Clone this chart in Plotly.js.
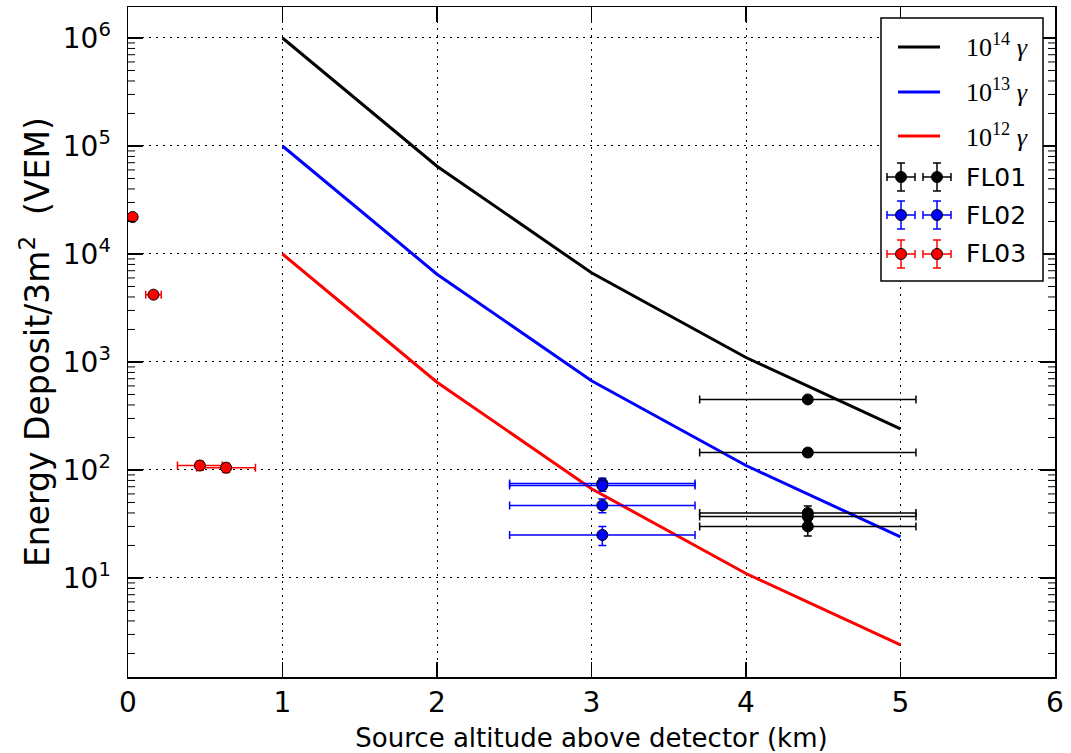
<!DOCTYPE html>
<html>
<head>
<meta charset="utf-8">
<script src="https://cdn.plot.ly/plotly-3.0.1.min.js"></script>
<style>html,body{margin:0;padding:0;background:#fff;}#chart{width:1071px;height:753px;}</style>
</head>
<body>
<div id="chart"></div>
<script>
// Model curves
const altitude = [1, 2, 3, 4, 5];
const model14 = [1.0e6, 6.5e4, 6.7e3, 1.1e3, 240];
const model13 = [1.0e5, 6.5e3, 670, 110, 24];
const model12 = [1.0e4, 650, 67, 11, 2.4];

// FL01 (black)
const fl01_x = [4.4, 4.4, 4.4, 4.4, 4.4];
const fl01_xerr = [0.7, 0.7, 0.7, 0.7, 0.7];
const fl01_y = [450, 145, 40, 37, 30];
const fl01_yerr = [21, 12, 6.3, 6.1, 5.5];

// FL02 (blue)
const fl02_x = [3.07, 3.07, 3.07, 3.07];
const fl02_xerr = [0.6, 0.6, 0.6, 0.6];
const fl02_y = [75, 72, 47, 25];
const fl02_yerr = [8.7, 8.5, 6.9, 5];

// FL03 (red)
const fl03_x = [0.03, 0.165, 0.465, 0.635];
const fl03_xerr = [0.0, 0.05, 0.145, 0.19];
const fl03_y = [22000, 4200, 110, 105];
const fl03_yerr = [148, 65, 10.5, 10.2];

const xTickVals = [0, 1, 2, 3, 4, 5, 6];
const yTickVals = [10, 100, 1000, 10000, 100000, 1000000];
const yTickText = ["10<sup>1</sup>", "10<sup>2</sup>", "10<sup>3</sup>", "10<sup>4</sup>", "10<sup>5</sup>", "10<sup>6</sup>"];
const legendLines = [
  {label: '10<sup>14</sup>', color: 'black'},
  {label: '10<sup>13</sup>', color: 'blue'},
  {label: '10<sup>12</sup>', color: 'red'}
];
const legendData = [
  {label: 'FL01', color: 'black'},
  {label: 'FL02', color: 'blue'},
  {label: 'FL03', color: 'red'}
];

const W = 1071, H = 753;
const M = {l: 128, r: 16, t: 7, b: 76};
const PW = W - M.l - M.r, PH = H - M.t - M.b;
const px = X => (X - M.l) / PW;
const py = Y => 1 - (Y - M.t) / PH;
const Y_RANGE = [0.083, 6.287];
// position of a y value on the log axis, as a fraction of the plot height
const yFrac = v => (Math.log10(v) - Y_RANGE[0]) / (Y_RANGE[1] - Y_RANGE[0]);

// minor tick positions of the log axis (2..9 x 10^k) inside the range
const yMinorVals = [];
for (let k = 0; k <= 6; k++) for (let m = 2; m <= 9; m++) {
  const v = m * Math.pow(10, k);
  if (Math.log10(v) > Y_RANGE[0] && Math.log10(v) < Y_RANGE[1]) yMinorVals.push(v);
}

function modelTrace(y, color) {
  return {x: altitude, y: y, mode: 'lines', type: 'scatter', line: {color: color, width: 3}};
}
function dataTrace(x, xe, y, ye, color) {
  return {x: x, y: y, mode: 'markers', type: 'scatter',
          marker: {color: color, size: 11, line: {color: 'black', width: 1}},
          error_x: {type: 'data', array: xe, visible: true, color: color, thickness: 1.5, width: 4},
          error_y: {type: 'data', array: ye, visible: true, color: color, thickness: 1.5, width: 4}};
}
const traces = [
  modelTrace(model14, 'black'),
  modelTrace(model13, 'blue'),
  modelTrace(model12, 'red'),
  dataTrace(fl01_x, fl01_xerr, fl01_y, fl01_yerr, 'black'),
  dataTrace(fl02_x, fl02_xerr, fl02_y, fl02_yerr, 'blue'),
  dataTrace(fl03_x, fl03_xerr, fl03_y, fl03_yerr, 'red')
];

const shapes = [];
const annotations = [];
// minor ticks (left and right sides) of the log y axis
yMinorVals.forEach(v => {
  const f = yFrac(v);
  shapes.push({type: 'line', xref: 'paper', yref: 'paper', xsizemode: 'pixel', xanchor: 0, x0: 0, x1: 7,
               y0: f, y1: f, line: {color: 'black', width: 1}, layer: 'above'});
  shapes.push({type: 'line', xref: 'paper', yref: 'paper', xsizemode: 'pixel', xanchor: 1, x0: -7, x1: 0,
               y0: f, y1: f, line: {color: 'black', width: 1}, layer: 'above'});
});

// Custom legend (matplotlib style, with two markers per data row)
const P = (o) => Object.assign({xref: 'paper', yref: 'paper'}, o);
shapes.push(P({type: 'rect', x0: px(881), x1: px(1043), y0: py(18), y1: py(281),
               line: {color: 'black', width: 1.5}, fillcolor: 'white', layer: 'above'}));
const lineRowsY = [47, 92, 136];
legendLines.forEach((it, i) => {
  const Y = lineRowsY[i];
  shapes.push(P({type: 'line', x0: px(898), x1: px(940), y0: py(Y), y1: py(Y),
                 line: {color: it.color, width: 3}, layer: 'above'}));
  annotations.push(P({x: px(964), y: py(Y - 1), xanchor: 'left', yanchor: 'middle', showarrow: false,
    text: '<span style="font-family:Liberation Serif">' + it.label + '</span> <span style="font-family:Liberation Serif;font-style:italic">&#947;</span>',
    font: {size: 26, color: 'black', family: 'Liberation Serif, serif'}}));
});
const dataRowsY = [177, 215, 254];
legendData.forEach((it, i) => {
  const Y = dataRowsY[i];
  [901, 937].forEach(X => {
    const L = (x0, y0, x1, y1) => shapes.push(P({type: 'line', x0: px(x0), x1: px(x1), y0: py(y0), y1: py(y1),
                                            line: {color: it.color, width: 1.5}, layer: 'above'}));
    L(X - 14, Y, X + 14, Y);
    L(X - 14, Y - 4, X - 14, Y + 4);
    L(X + 14, Y - 4, X + 14, Y + 4);
    L(X, Y - 14, X, Y + 14);
    L(X - 4, Y - 14, X + 4, Y - 14);
    L(X - 4, Y + 14, X + 4, Y + 14);
    shapes.push(P({type: 'circle', x0: px(X - 5.5), x1: px(X + 5.5), y0: py(Y - 5.5), y1: py(Y + 5.5),
                   fillcolor: it.color, line: {color: 'black', width: 1}, layer: 'above'}));
  });
  annotations.push(P({x: px(964), y: py(Y), xanchor: 'left', yanchor: 'middle', showarrow: false,
    text: it.label, font: {size: 25, color: 'black', family: 'DejaVu Sans, sans-serif'}}));
});
// y axis title
annotations.push(P({x: px(35), y: py(342), xanchor: 'center', yanchor: 'middle', showarrow: false, textangle: -90,
  text: 'Energy Deposit/3m<sup>2</sup>&nbsp;&nbsp;(VEM)', font: {size: 33, color: 'black', family: 'DejaVu Sans, sans-serif'}}));

const layout = {
  width: W, height: H, margin: M,
  paper_bgcolor: 'white', plot_bgcolor: 'white',
  font: {family: 'DejaVu Sans, sans-serif', color: 'black'},
  showlegend: false,
  shapes: shapes, annotations: annotations,
  xaxis: {
    range: [0, 6], tickvals: xTickVals, ticktext: xTickVals.map(String),
    showline: true, linecolor: 'black', linewidth: 1.5, mirror: 'ticks',
    ticks: 'inside', ticklen: 15, tickwidth: 1.5, tickcolor: 'black',
    showgrid: true, gridcolor: 'black', griddash: '2px,5px', gridwidth: 1,
    zeroline: false, tickfont: {size: 28},
    title: {text: 'Source altitude above detector (km)', font: {size: 26}, standoff: 10}
  },
  yaxis: {
    type: 'log', range: Y_RANGE, tickvals: yTickVals, ticktext: yTickText,
    showline: true, linecolor: 'black', linewidth: 1.5, mirror: 'ticks',
    ticks: 'inside', ticklen: 15, tickwidth: 1.5, tickcolor: 'black',
    showgrid: true, gridcolor: 'black', griddash: '2px,5px', gridwidth: 1,
    zeroline: false, tickfont: {size: 28}, ticklabelstandoff: 10
  }
};
Plotly.newPlot('chart', traces, layout, {displayModeBar: false, staticPlot: true});
</script>
</body>
</html>
